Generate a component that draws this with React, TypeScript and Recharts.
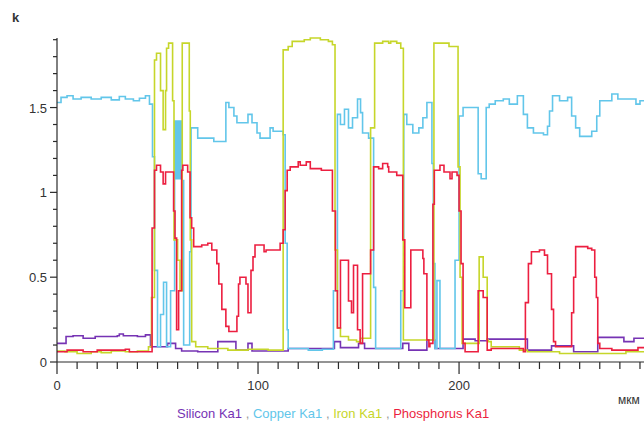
import React from 'react';
import { LineChart, Line, XAxis, YAxis, Legend } from 'recharts';

// step breakpoints (x in the chart's length units, y in k)
const siliconX = [0, 4.5, 8, 13, 19, 30, 31, 33, 40, 44, 46.5, 55, 59, 62, 70, 80, 89, 95, 97, 115, 138, 141, 150, 153, 172, 175, 184, 188, 198, 202, 208, 214, 234, 246, 257, 269, 282, 287, 292];
const siliconY = [0.11, 0.15, 0.155, 0.14, 0.15, 0.155, 0.165, 0.155, 0.15, 0.16, 0.09, 0.11, 0.08, 0.065, 0.06, 0.12, 0.07, 0.11, 0.065, 0.08, 0.12, 0.085, 0.11, 0.08, 0.11, 0.07, 0.13, 0.08, 0.08, 0.135, 0.125, 0.135, 0.07, 0.095, 0.06, 0.145, 0.12, 0.14, 0.14];

const copperX = [0, 2, 5, 8, 12, 17, 22, 27, 31, 34, 38, 41, 44, 46, 47.5, 48.5, 50, 51.5, 53, 54.5, 56.5, 58.5, 59.3, 60, 60.7, 61.4, 62.2, 63, 66, 66.7, 68, 70, 74, 78, 84, 85.5, 88, 89.5, 95, 97, 99.5, 101, 106, 107.5, 112.5, 113.5, 114.5, 115, 125, 132, 137.5, 139.5, 141, 143, 145, 147, 149.5, 151, 152, 155, 157.5, 158.5, 171, 172.5, 174, 177, 180, 182, 184, 186.5, 187.2, 188, 189, 190.5, 198, 200, 202, 209.5, 211, 213.5, 215, 218, 222, 225, 229, 232, 234, 237, 242, 244, 245, 246.5, 250, 254, 256, 258, 260, 266, 268.5, 270, 276, 279, 288, 290, 292];
const copperY = [1.53, 1.56, 1.57, 1.55, 1.56, 1.55, 1.56, 1.545, 1.565, 1.55, 1.54, 1.555, 1.57, 1.52, 1.21, 0.54, 0.09, 0.28, 0.47, 0.09, 0.42, 1.42, 1.08, 1.42, 1.08, 1.42, 1.07, 0.1, 0.65, 1.38, 1.38, 1.32, 1.32, 1.3, 1.53, 1.5, 1.45, 1.41, 1.46, 1.41, 1.35, 1.32, 1.38, 1.36, 1.34, 0.7, 0.19, 0.08, 0.07, 0.075, 0.42, 1.46, 1.4, 1.49, 1.38, 1.44, 1.55, 1.47, 1.35, 1.32, 0.44, 0.08, 0.42, 1.46, 1.4, 1.35, 1.38, 1.44, 1.53, 1.17, 0.58, 0.08, 0.48, 0.08, 0.6, 1.45, 1.5, 1.11, 1.08, 1.5, 1.52, 1.54, 1.55, 1.52, 1.57, 1.46, 1.38, 1.35, 1.34, 1.39, 1.48, 1.57, 1.54, 1.56, 1.45, 1.38, 1.33, 1.36, 1.45, 1.54, 1.58, 1.55, 1.52, 1.54, 1.54];

const ironX = [0, 4, 10, 17, 22, 27, 34, 40, 45.5, 47, 48.5, 49.5, 51.5, 52.8, 54, 54.5, 55.5, 57.5, 58.2, 60, 61.2, 62.3, 65.8, 66.3, 67, 69, 75, 85, 95, 105, 112.5, 115, 117, 121, 123, 126, 131, 135, 137, 138.3, 139.5, 141, 145, 149, 151, 156, 158, 162, 165, 166, 169, 171, 172.3, 187.5, 191, 195, 199.5, 200.5, 201.5, 210, 212, 214, 214.5, 216, 230, 234, 250, 270, 283, 292];
const ironY = [0.065, 0.06, 0.05, 0.06, 0.055, 0.065, 0.06, 0.065, 0.09, 0.38, 1.78, 1.82, 1.6, 1.37, 1.6, 1.85, 1.88, 1.54, 0.72, 0.6, 0.42, 1.88, 1.48, 0.72, 0.12, 0.09, 0.08, 0.07, 0.075, 0.07, 1.84, 1.86, 1.89, 1.89, 1.9, 1.91, 1.9, 1.89, 1.87, 0.66, 0.2, 0.15, 0.13, 0.12, 0.14, 1.38, 1.88, 1.89, 1.88, 1.89, 1.88, 1.85, 0.13, 1.88, 1.88, 1.86, 1.15, 0.5, 0.11, 0.62, 0.5, 0.13, 0.12, 0.09, 0.07, 0.06, 0.05, 0.05, 0.06, 0.06];

const phosphorusX = [0, 5, 13, 20, 34, 36, 47.3, 48.5, 49.5, 51.5, 52.8, 54, 58, 58.7, 59.5, 60.5, 62, 62.6, 65, 66.2, 67, 68, 72, 75, 77, 79.5, 80.5, 82, 84, 85.5, 89.5, 90.3, 91, 94, 95, 96.5, 97.5, 98.5, 103, 104, 111, 112.5, 113.5, 114.5, 116, 120, 121, 124, 126, 131.5, 137, 138.5, 139.5, 141, 145, 146.5, 147.5, 149.5, 150.8, 152, 156, 157.5, 160, 162, 164.5, 165, 169, 172, 173, 176, 182, 182.5, 184, 185, 185.5, 187, 187.7, 190.5, 192.5, 195.5, 196.5, 199, 200, 201, 202, 203, 209.5, 212, 214, 216, 232, 233, 234.5, 236, 240, 242.5, 244, 246, 247, 248, 256, 257, 258, 264, 266, 267.5, 268.3, 269, 270, 276, 289, 292];
const phosphorusY = [0.06, 0.07, 0.06, 0.07, 0.075, 0.06, 0.79, 1.13, 1.16, 1.12, 1.05, 1.12, 0.89, 0.73, 0.19, 0.42, 1.13, 1.16, 1.12, 0.85, 0.79, 0.68, 0.69, 0.7, 0.66, 0.58, 0.46, 0.31, 0.21, 0.18, 0.27, 0.46, 0.5, 0.46, 0.29, 0.54, 0.62, 0.69, 0.65, 0.66, 0.7, 0.78, 1.01, 1.13, 1.15, 1.18, 1.16, 1.18, 1.14, 1.13, 0.89, 0.42, 0.2, 0.6, 0.36, 0.29, 0.57, 0.19, 0.11, 0.52, 0.66, 1.15, 1.14, 1.17, 1.15, 1.12, 1.1, 0.72, 0.32, 0.66, 0.61, 0.52, 0.13, 0.09, 0.11, 0.93, 1.13, 1.16, 1.12, 1.08, 1.12, 1.1, 0.89, 0.58, 0.11, 0.06, 0.42, 0.38, 0.07, 0.08, 0.06, 0.35, 0.58, 0.65, 0.66, 0.63, 0.52, 0.31, 0.12, 0.09, 0.29, 0.5, 0.68, 0.67, 0.66, 0.5, 0.38, 0.11, 0.08, 0.07, 0.085, 0.085];

const xTicks = [0, 10, 20, 30, 40, 50, 60, 70, 80, 90, 100, 110, 120, 130, 140, 150, 160, 170, 180, 190, 200, 210, 220, 230, 240, 250, 260, 270, 280, 290];
const xLabelTicks = [0, 100, 200];
const yTicks = [0, 0.1, 0.2, 0.3, 0.4, 0.5, 0.6, 0.7, 0.8, 0.9, 1, 1.1, 1.2, 1.3, 1.4, 1.5, 1.6, 1.7, 1.8, 1.9];
const yLabelTicks = [0, 0.5, 1, 1.5];

const toPoints = (xs: number[], ys: number[]) => xs.map((x, i) => ({ x, v: ys[i] }));

const series = [
  { name: 'Silicon Ka1', color: '#7633b4', data: toPoints(siliconX, siliconY) },
  { name: 'Copper Ka1', color: '#62c6ea', data: toPoints(copperX, copperY) },
  { name: 'Iron Ka1', color: '#c6d62a', data: toPoints(ironX, ironY) },
  { name: 'Phosphorus Ka1', color: '#ec1f40', data: toPoints(phosphorusX, phosphorusY) },
];

const font = '"Liberation Sans", Arial, sans-serif';
const axisColor = '#2a2a2a';

const XTick = (props: any) => {
  const { x, y, payload } = props;
  const major = xLabelTicks.includes(payload.value);
  return (
    <g>
      <line x1={x} x2={x} y1={y} y2={y + (major ? 12 : 7)} stroke={axisColor} strokeWidth={1.2} />
      {major && (
        <text x={x} y={y + 28} textAnchor="middle" fontSize={13} fontFamily={font} fill="#333">
          {payload.value}
        </text>
      )}
    </g>
  );
};

const YTick = (props: any) => {
  const { x, y, payload } = props;
  const major = yLabelTicks.includes(payload.value);
  return (
    <g>
      <line x1={x - (major ? 7 : 4)} x2={x} y1={y} y2={y} stroke={axisColor} strokeWidth={1.2} />
      {major && (
        <text x={x - 10} y={y + 5} textAnchor="end" fontSize={13} fontFamily={font} fill="#333">
          {payload.value}
        </text>
      )}
    </g>
  );
};

const Caption = ({ px, py, text, size, weight }: any) => (
  <text x={px} y={py} fontSize={size} fontWeight={weight} fontFamily={font} fill="#333">
    {text}
  </text>
);

const LegendContent = () => (
  <div style={{ fontFamily: font, fontSize: 13, lineHeight: '13px', whiteSpace: 'nowrap' }}>
    {series.map((s, i) => (
      <React.Fragment key={s.name}>
        {i > 0 && <span style={{ color: '#9a9a9a' }}> , </span>}
        <span style={{ color: s.color }}>{s.name}</span>
      </React.Fragment>
    ))}
  </div>
);

export default function App() {
  return (
    <div style={{ position: 'absolute', left: 0, top: 0, width: 644, height: 423, overflow: 'hidden', background: '#fff' }}>
      <LineChart width={644} height={423} margin={{ top: 38, right: 0, left: 0, bottom: 0 }}>
        <XAxis
          dataKey="x"
          type="number"
          domain={[0, 292]}
          ticks={xTicks}
          allowDataOverflow
          height={61}
          tickSize={0}
          tickMargin={0}
          tickLine={false}
          tick={<XTick />}
          interval={0}
          stroke={axisColor}
          strokeWidth={1.2}
          label={<Caption px={618} py={404} text="мкм" size={12} weight="normal" />}
        />
        <YAxis
          type="number"
          domain={[0, 1.9]}
          ticks={yTicks}
          width={57}
          tickSize={0}
          tickMargin={0}
          tickLine={false}
          tick={<YTick />}
          interval={0}
          stroke={axisColor}
          strokeWidth={1.2}
          label={<Caption px={12} py={22} text="k" size={13} weight="bold" />}
        />
        <Legend
          verticalAlign="middle"
          align="center"
          layout="horizontal"
          content={<LegendContent />}
          wrapperStyle={{ left: 177, top: 407, width: 460 }}
        />
        {series.map((s) => (
          <Line
            key={s.name}
            name={s.name}
            data={s.data}
            dataKey="v"
            type="stepAfter"
            stroke={s.color}
            strokeWidth={1.6}
            dot={false}
            activeDot={false}
            isAnimationActive={false}
          />
        ))}
      </LineChart>
    </div>
  );
}
